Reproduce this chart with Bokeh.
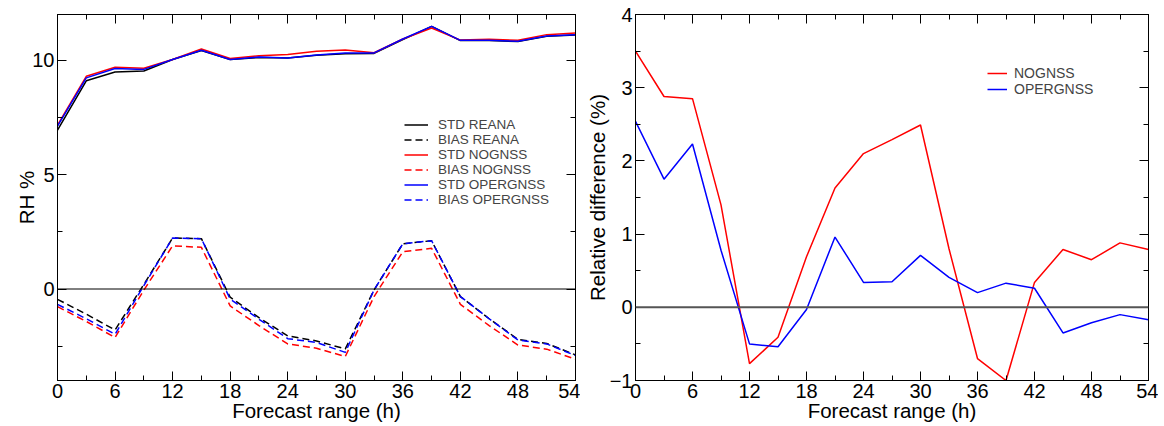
from bokeh.plotting import figure
from bokeh.layouts import row
from bokeh.models import Range1d, LinearAxis, SingleIntervalTicker, Span, Legend, CustomJSTickFormatter
from bokeh.embed import file_html
from bokeh.resources import INLINE

# ---------------- data ----------------
hours = [0, 3, 6, 9, 12, 15, 18, 21, 24, 27, 30, 33, 36, 39, 42, 45, 48, 51, 54]

std_reana    = [6.94, 9.10, 9.49, 9.53, 10.03, 10.42, 10.03, 10.12, 10.10, 10.22, 10.28, 10.30, 10.90, 11.48, 10.86, 10.86, 10.82, 11.05, 11.10]
std_nognss   = [7.16, 9.30, 9.69, 9.65, 10.03, 10.49, 10.08, 10.20, 10.25, 10.39, 10.45, 10.33, 10.93, 11.41, 10.88, 10.92, 10.87, 11.12, 11.19]
std_opergnss = [7.12, 9.23, 9.64, 9.60, 10.03, 10.44, 10.03, 10.14, 10.10, 10.23, 10.32, 10.32, 10.93, 11.48, 10.87, 10.87, 10.83, 11.06, 11.12]

bias_reana    = [-0.45, -1.10, -1.79, 0.20, 2.23, 2.20, -0.36, -1.25, -2.05, -2.27, -2.62, -0.04, 1.98, 2.11, -0.33, -1.30, -2.20, -2.38, -2.88]
bias_nognss   = [-0.77, -1.42, -2.12, -0.05, 1.89, 1.82, -0.74, -1.60, -2.40, -2.59, -2.95, -0.33, 1.63, 1.78, -0.67, -1.60, -2.45, -2.63, -3.07]
bias_opergnss = [-0.67, -1.30, -1.98, 0.15, 2.23, 2.20, -0.44, -1.32, -2.17, -2.34, -2.77, -0.04, 1.98, 2.11, -0.33, -1.30, -2.23, -2.40, -2.91]

rel_nognss   = [3.50, 2.88, 2.85, 1.40, -0.77, -0.41, 0.69, 1.63, 2.10, 2.29, 2.49, 0.80, -0.70, -1.00, 0.34, 0.79, 0.65, 0.88, 0.79]
rel_opergnss = [2.54, 1.75, 2.23, 0.78, -0.50, -0.54, -0.03, 0.96, 0.34, 0.35, 0.71, 0.41, 0.20, 0.33, 0.26, -0.35, -0.21, -0.10, -0.17]

FONT = "Liberation Sans"
DASH = "7 4"


def style_axis(ax, interval, labels=True):
    ax.ticker = SingleIntervalTicker(interval=interval, num_minor_ticks=2)
    ax.major_tick_in = 9
    ax.major_tick_out = 0
    ax.minor_tick_in = 5
    ax.minor_tick_out = 0
    ax.axis_line_color = "black"
    ax.major_tick_line_color = "black"
    ax.minor_tick_line_color = "black"
    ax.major_label_text_font = FONT
    ax.major_label_text_color = "black"
    ax.axis_label_text_font = FONT
    ax.axis_label_text_font_style = "normal"
    ax.axis_label_text_color = "black"
    if labels:
        ax.major_label_text_font_size = "20px"
        ax.axis_label_text_font_size = "20.5px"
        ax.major_label_standoff = 3
        ax.axis_label_standoff = -2
    else:
        ax.formatter = CustomJSTickFormatter(code="return ''")
        ax.major_label_text_font_size = "1px"
        ax.major_label_standoff = 0


def make_fig(yr, yint, ylabel, bl, br, width):
    p = figure(width=width, height=424, x_range=Range1d(0, 54), y_range=Range1d(*yr),
               output_backend="svg", toolbar_location=None,
               min_border_left=bl, min_border_right=br, min_border_top=14, min_border_bottom=40)
    p.grid.visible = False
    p.outline_line_color = "black"
    p.outline_line_width = 1
    style_axis(p.xaxis[0], 6)
    style_axis(p.yaxis[0], yint)
    p.xaxis[0].axis_label = "Forecast range (h)"
    p.yaxis[0].axis_label = ylabel
    top = LinearAxis()
    style_axis(top, 6, labels=False)
    p.add_layout(top, "above")
    right = LinearAxis()
    style_axis(right, yint, labels=False)
    p.add_layout(right, "right")
    return p


# ---------------- left panel ----------------
p1 = make_fig((-4, 12), 5, "RH %", 57, 5, 580)
p1.yaxis[0].axis_label_standoff = -9
p1.add_layout(Span(location=0, dimension="width", line_color="black", line_width=1))

r1 = p1.line(hours, std_reana, line_color="black", line_width=1.5)
r2 = p1.line(hours, bias_reana, line_color="black", line_width=1.5, line_dash=DASH)
r3 = p1.line(hours, std_nognss, line_color="red", line_width=1.5)
r4 = p1.line(hours, bias_nognss, line_color="red", line_width=1.5, line_dash=DASH)
r5 = p1.line(hours, std_opergnss, line_color="blue", line_width=1.5)
r6 = p1.line(hours, bias_opergnss, line_color="blue", line_width=1.5, line_dash=DASH)

leg1 = Legend(items=[("STD REANA", [r1]), ("BIAS REANA", [r2]), ("STD NOGNSS", [r3]),
                     ("BIAS NOGNSS", [r4]), ("STD OPERGNSS", [r5]), ("BIAS OPERGNSS", [r6])],
              location=(347, 173), border_line_color=None, background_fill_alpha=0,
              label_text_font=FONT, label_text_font_size="13.5px", label_height=15,
              glyph_height=15, glyph_width=24, spacing=0, padding=0, margin=0,
              label_standoff=10)
p1.add_layout(leg1, "center")

# ---------------- right panel ----------------
p2 = make_fig((-1, 4), 1, "Relative difference (%)", 55, 10, 578)
p2.add_layout(Span(location=0, dimension="width", line_color="#555555", line_width=2))
q1 = p2.line(hours, rel_nognss, line_color="red", line_width=1.5)
q2 = p2.line(hours, rel_opergnss, line_color="blue", line_width=1.5)
leg2 = Legend(items=[("NOGNSS", [q1]), ("OPERGNSS", [q2])],
              location=(352, 283), border_line_color=None, background_fill_alpha=0,
              label_text_font=FONT, label_text_font_size="14px", label_height=16,
              glyph_height=16, glyph_width=20, spacing=0, padding=0, margin=0,
              label_standoff=7)
p2.add_layout(leg2, "center")

layout = row(p1, p2)
open("out.html", "w").write(file_html(layout, INLINE))
